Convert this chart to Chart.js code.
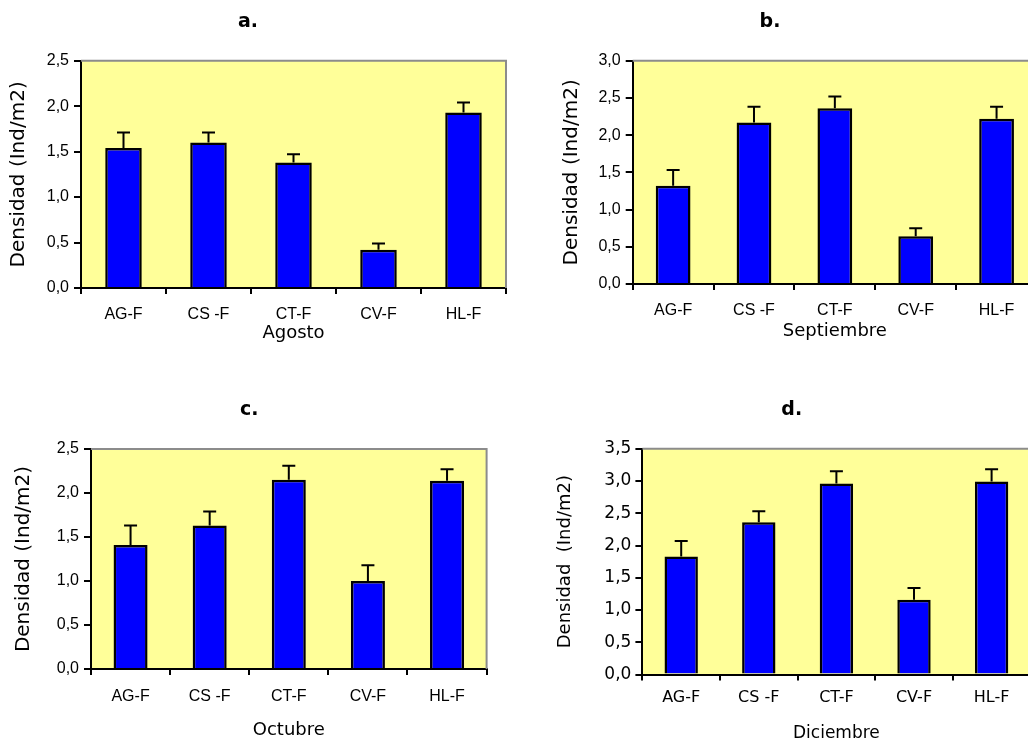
<!DOCTYPE html>
<html><head><meta charset="utf-8">
<script src="https://cdn.jsdelivr.net/npm/chart.js@4"></script>
<style>
html,body{margin:0;padding:0;background:#fff;}
#wrap{position:relative;width:1028px;height:744px;overflow:hidden;background:#fff;}
canvas{position:absolute;}
</style></head><body><div id="wrap">
<canvas id="ca"></canvas><canvas id="cb"></canvas><canvas id="cc"></canvas><canvas id="cd"></canvas>
</div>
<script>
// ---- data ----
const categories = ['AG-F', 'CS -F', 'CT-F', 'CV-F', 'HL-F'];
const panelTitles = ['a.', 'b.', 'c.', 'd.'];
const monthLabels = ['Agosto', 'Septiembre', 'Octubre', 'Diciembre'];
const yTitle = 'Densidad (Ind/m2)';
const yTitleD = 'Densidad  (Ind/m2)';

const meanA = [1.54, 1.60, 1.38, 0.42, 1.93];
const errA  = [0.17, 0.11, 0.09, 0.07, 0.11];
const meanB = [1.32, 2.17, 2.36, 0.64, 2.22];
const errB  = [0.21, 0.21, 0.16, 0.11, 0.16];
const meanC = [1.41, 1.63, 2.15, 1.00, 2.14];
const errC  = [0.22, 0.16, 0.16, 0.18, 0.13];
const meanD = [1.83, 2.36, 2.96, 1.16, 2.99];
const errD  = [0.24, 0.17, 0.19, 0.18, 0.19];

const ticksA = ['0,0', '0,5', '1,0', '1,5', '2,0', '2,5'];
const ticksB = ['0,0', '0,5', '1,0', '1,5', '2,0', '2,5', '3,0'];
const ticksC = ['0,0', '0,5', '1,0', '1,5', '2,0', '2,5'];
const ticksD = ['0,0', '0,5', '1,0', '1,5', '2,0', '2,5', '3,0', '3,5'];
const maxA = 2.5, maxB = 3.0, maxC = 2.5, maxD = 3.5;

// ---- plugins ----
const plotBg = {
  id: 'plotBg',
  beforeDraw(chart) {
    const {ctx, chartArea: a} = chart;
    ctx.save();
    ctx.fillStyle = '#FFFF99';
    ctx.fillRect(a.left, a.top, a.right - a.left, a.bottom - a.top);
    ctx.restore();
  },
  beforeDatasetsDraw(chart) {
    const {ctx, chartArea: a} = chart;
    ctx.save();
    ctx.strokeStyle = '#8c8c8c';
    ctx.lineWidth = 2;
    ctx.beginPath();
    ctx.moveTo(a.left, a.top);
    ctx.lineTo(a.right, a.top);
    ctx.lineTo(a.right, a.bottom);
    ctx.stroke();
    ctx.restore();
  }
};
const errorBars = {
  id: 'errorBars',
  afterDatasetsDraw(chart) {
    const ctx = chart.ctx;
    const ds = chart.data.datasets[0];
    const meta = chart.getDatasetMeta(0);
    const ys = chart.scales.y;
    ctx.save();
    ctx.strokeStyle = '#000';
    ctx.lineWidth = 2;
    meta.data.forEach((bar, i) => {
      const yTop = ys.getPixelForValue(ds.data[i] + ds.errors[i]);
      ctx.beginPath();
      ctx.moveTo(bar.x, bar.y);
      ctx.lineTo(bar.x, yTop);
      ctx.moveTo(bar.x - 6.5, yTop);
      ctx.lineTo(bar.x + 6.5, yTop);
      ctx.stroke();
    });
    ctx.restore();
  }
};

// ---- layout (page coordinates) ----
const layouts = [
  {id:'ca', L:-10, T:0,   W:524, pr:8,   plotL:81,    plotT:60.7,  plotB:288.3, xH:60,   titleY:22,
   yFam:'Liberation Sans', ySize:16, yPad:5, xFam:'Liberation Sans', xSize:16, labY:315, xtSize:18, xtY:334, ytSize:20, ytX:18.5},
  {id:'cb', L:503, T:0,   W:540, pr:6,   plotL:632.7, plotT:60.7,  plotB:284.3, xH:60,   titleY:22,
   yFam:'Liberation Sans', ySize:16, yPad:5, xFam:'Liberation Sans', xSize:16, labY:311, xtSize:18, xtY:332, ytSize:20, ytX:571.5},
  {id:'cc', L:11.7, T:380, W:480, pr:5.4, plotL:90.7, plotT:449,   plotB:669,   xH:75,   titleY:410,
   yFam:'Liberation Sans', ySize:16, yPad:5, xFam:'Liberation Sans', xSize:16, labY:697, xtSize:18, xtY:730, ytSize:20, ytX:23},
  {id:'cd', L:553.3, T:380, W:480, pr:2.6, plotL:642.7, plotT:448.7, plotB:674.6, xH:69.4, titleY:410,
   yFam:'DejaVu Sans', ySize:17, yPad:4, xFam:'DejaVu Sans', xSize:16, labY:698, xtSize:17, xtY:735, ytSize:18, ytX:565.5}
];
const means = [meanA, meanB, meanC, meanD];
const errs = [errA, errB, errC, errD];
const tickSets = [ticksA, ticksB, ticksC, ticksD];
const maxes = [maxA, maxB, maxC, maxD];
const yTitles = [yTitle, yTitle, yTitle, yTitleD];

layouts.forEach((p, k) => {
  const cv = document.getElementById(p.id);
  const H = p.plotB - p.T + p.xH;
  cv.width = p.W; cv.height = Math.round(H);
  cv.style.left = p.L + 'px'; cv.style.top = p.T + 'px';
  const titleLH = 19 * 1.2;
  const tTop = p.titleY - p.T - titleLH / 2;
  const tBot = (p.plotT - p.T) - tTop - titleLH;
  const xLH = p.xSize * 1.2;
  const xtLH = p.xtSize * 1.2;
  const ytLH = p.ytSize * 1.2;
  const ticks = tickSets[k];
  new Chart(cv, {
    type: 'bar',
    data: {
      labels: categories,
      datasets: [{
        data: means[k],
        errors: errs[k],
        backgroundColor: '#0000FF',
        borderColor: '#000000',
        borderWidth: 2.5,
        barPercentage: 0.43,
        categoryPercentage: 1.0
      }]
    },
    options: {
      responsive: false,
      animation: false,
      devicePixelRatio: 1,
      layout: {padding: {left: 0, right: p.pr, top: 0, bottom: 0}},
      plugins: {
        legend: {display: false},
        tooltip: {enabled: false},
        title: {
          display: true,
          text: panelTitles[k],
          color: '#000',
          font: {family: 'DejaVu Sans', size: 19, weight: 'bold', lineHeight: 1.2},
          padding: {top: tTop, bottom: tBot}
        }
      },
      scales: {
        x: {
          grid: {display: true, drawOnChartArea: false, drawTicks: true, tickLength: 6, color: '#000', lineWidth: 2, offset: true},
          border: {display: true, color: '#000', width: 2},
          ticks: {color: '#000', font: {family: p.xFam, size: p.xSize, lineHeight: 1.2},
                  padding: p.labY - p.plotB - 6 - xLH / 2, maxRotation: 0, autoSkip: false},
          title: {display: true, text: monthLabels[k], color: '#000',
                  font: {family: 'DejaVu Sans', size: p.xtSize, lineHeight: 1.2},
                  padding: {top: 0, bottom: Math.max(0, p.plotB + p.xH - p.xtY - xtLH / 2)}},
          afterFit: s => { s.height = p.xH; }
        },
        y: {
          min: 0, max: maxes[k],
          grid: {display: true, drawOnChartArea: false, drawTicks: true, tickLength: 7, color: '#000', lineWidth: 2},
          border: {display: true, color: '#000', width: 2},
          ticks: {stepSize: 0.5, color: '#000', font: {family: p.yFam, size: p.ySize},
                  padding: p.yPad, callback: (v, i) => ticks[i]},
          title: {display: true, text: yTitles[k], color: '#000',
                  font: {family: 'DejaVu Sans', size: p.ytSize, lineHeight: 1.2},
                  padding: {top: Math.max(0, p.ytX - p.L - ytLH / 2), bottom: 0}},
          afterFit: s => { s.width = p.plotL - p.L; }
        }
      }
    },
    plugins: [plotBg, errorBars]
  });
});
</script>
</body></html>
